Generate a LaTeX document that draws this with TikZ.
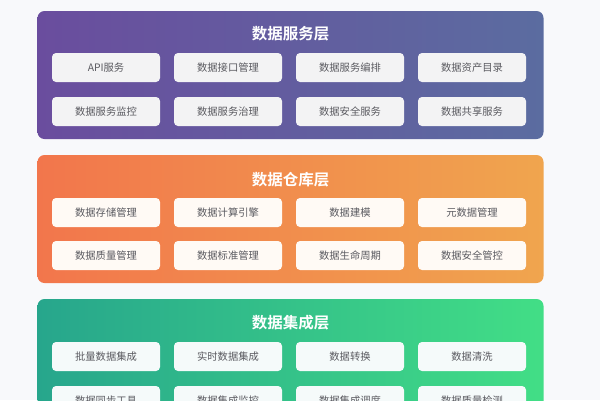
\documentclass[tikz,border=0pt]{standalone}
\usepackage{fontspec}
\newfontfamily\cjk{Noto Sans CJK SC}[BoldFont={Noto Sans CJK SC Bold}]
\definecolor{bgpage}{HTML}{F8F9FB}
\definecolor{servL}{HTML}{6A4D9E}
\definecolor{servR}{HTML}{5B6CA0}
\definecolor{warehL}{HTML}{F2764C}
\definecolor{warehR}{HTML}{F0A54E}
\definecolor{integL}{HTML}{27A68C}
\definecolor{integR}{HTML}{42DE86}
\definecolor{itemtxt}{HTML}{5A5A60}
\tikzset{
  layer/.style={rounded corners=7pt, minimum width=506pt, minimum height=128pt, inner sep=0pt},
  layertitle/.style={font=\cjk\bfseries\fontsize{15.5}{17}\selectfont, text=white},
  item/.style={rounded corners=4pt, minimum width=108pt, minimum height=29pt, inner sep=0pt,
    font=\cjk\fontsize{10.3}{12}\selectfont, text=itemtxt}
}
\begin{document}
\begin{tikzpicture}[x=1pt, y=-1pt]

  % --- sfondo ---
  \fill[bgpage] (0,0) rectangle (600,400);
  \useasboundingbox (0,0) rectangle (600,400);
  \clip (0,0) rectangle (600,400);

  % --- Data service layer ---
  \node[layer, left color=servL, right color=servR] (serv) at (290.5,75) {};
  \node[layertitle] (servtitle) at (290.5,34) {数据服务层};
  \foreach \t [count=\i] in {API服务,数据接口管理,数据服务编排,数据资产目录}
    \node[item, fill=blue!3!gray!9] (serv-a\i) at (106+\i*122-122,67.5) {\t};
  \foreach \t [count=\i] in {数据服务监控,数据服务治理,数据安全服务,数据共享服务}
    \node[item, fill=blue!3!gray!9] (serv-b\i) at (106+\i*122-122,111.5) {\t};

  % --- Data warehouse layer ---
  \node[layer, left color=warehL, right color=warehR] (wareh) at (290.5,219) {};
  \node[layertitle] (warehtitle) at (290.5,180) {数据仓库层};
  \foreach \t [count=\i] in {数据存储管理,数据计算引擎,数据建模,元数据管理}
    \node[item, fill=orange!4] (wareh-a\i) at (106+\i*122-122,212.5) {\t};
  \foreach \t [count=\i] in {数据质量管理,数据标准管理,数据生命周期,数据安全管控}
    \node[item, fill=orange!4] (wareh-b\i) at (106+\i*122-122,255.5) {\t};

  % --- Data integration layer (tagliato in basso) ---
  \node[layer, left color=integL, right color=integR] (integ) at (290.5,363) {};
  \node[layertitle] (integtitle) at (290.5,323) {数据集成层};
  \foreach \t [count=\i] in {批量数据集成,实时数据集成,数据转换,数据清洗}
    \node[item, fill=teal!4] (integ-a\i) at (106+\i*122-122,356.5) {\t};
  \foreach \t [count=\i] in {数据同步工具,数据集成监控,数据集成调度,数据质量检测}
    \node[item, fill=teal!4] (integ-b\i) at (106+\i*122-122,400.5) {\t};

\end{tikzpicture}
\end{document}
